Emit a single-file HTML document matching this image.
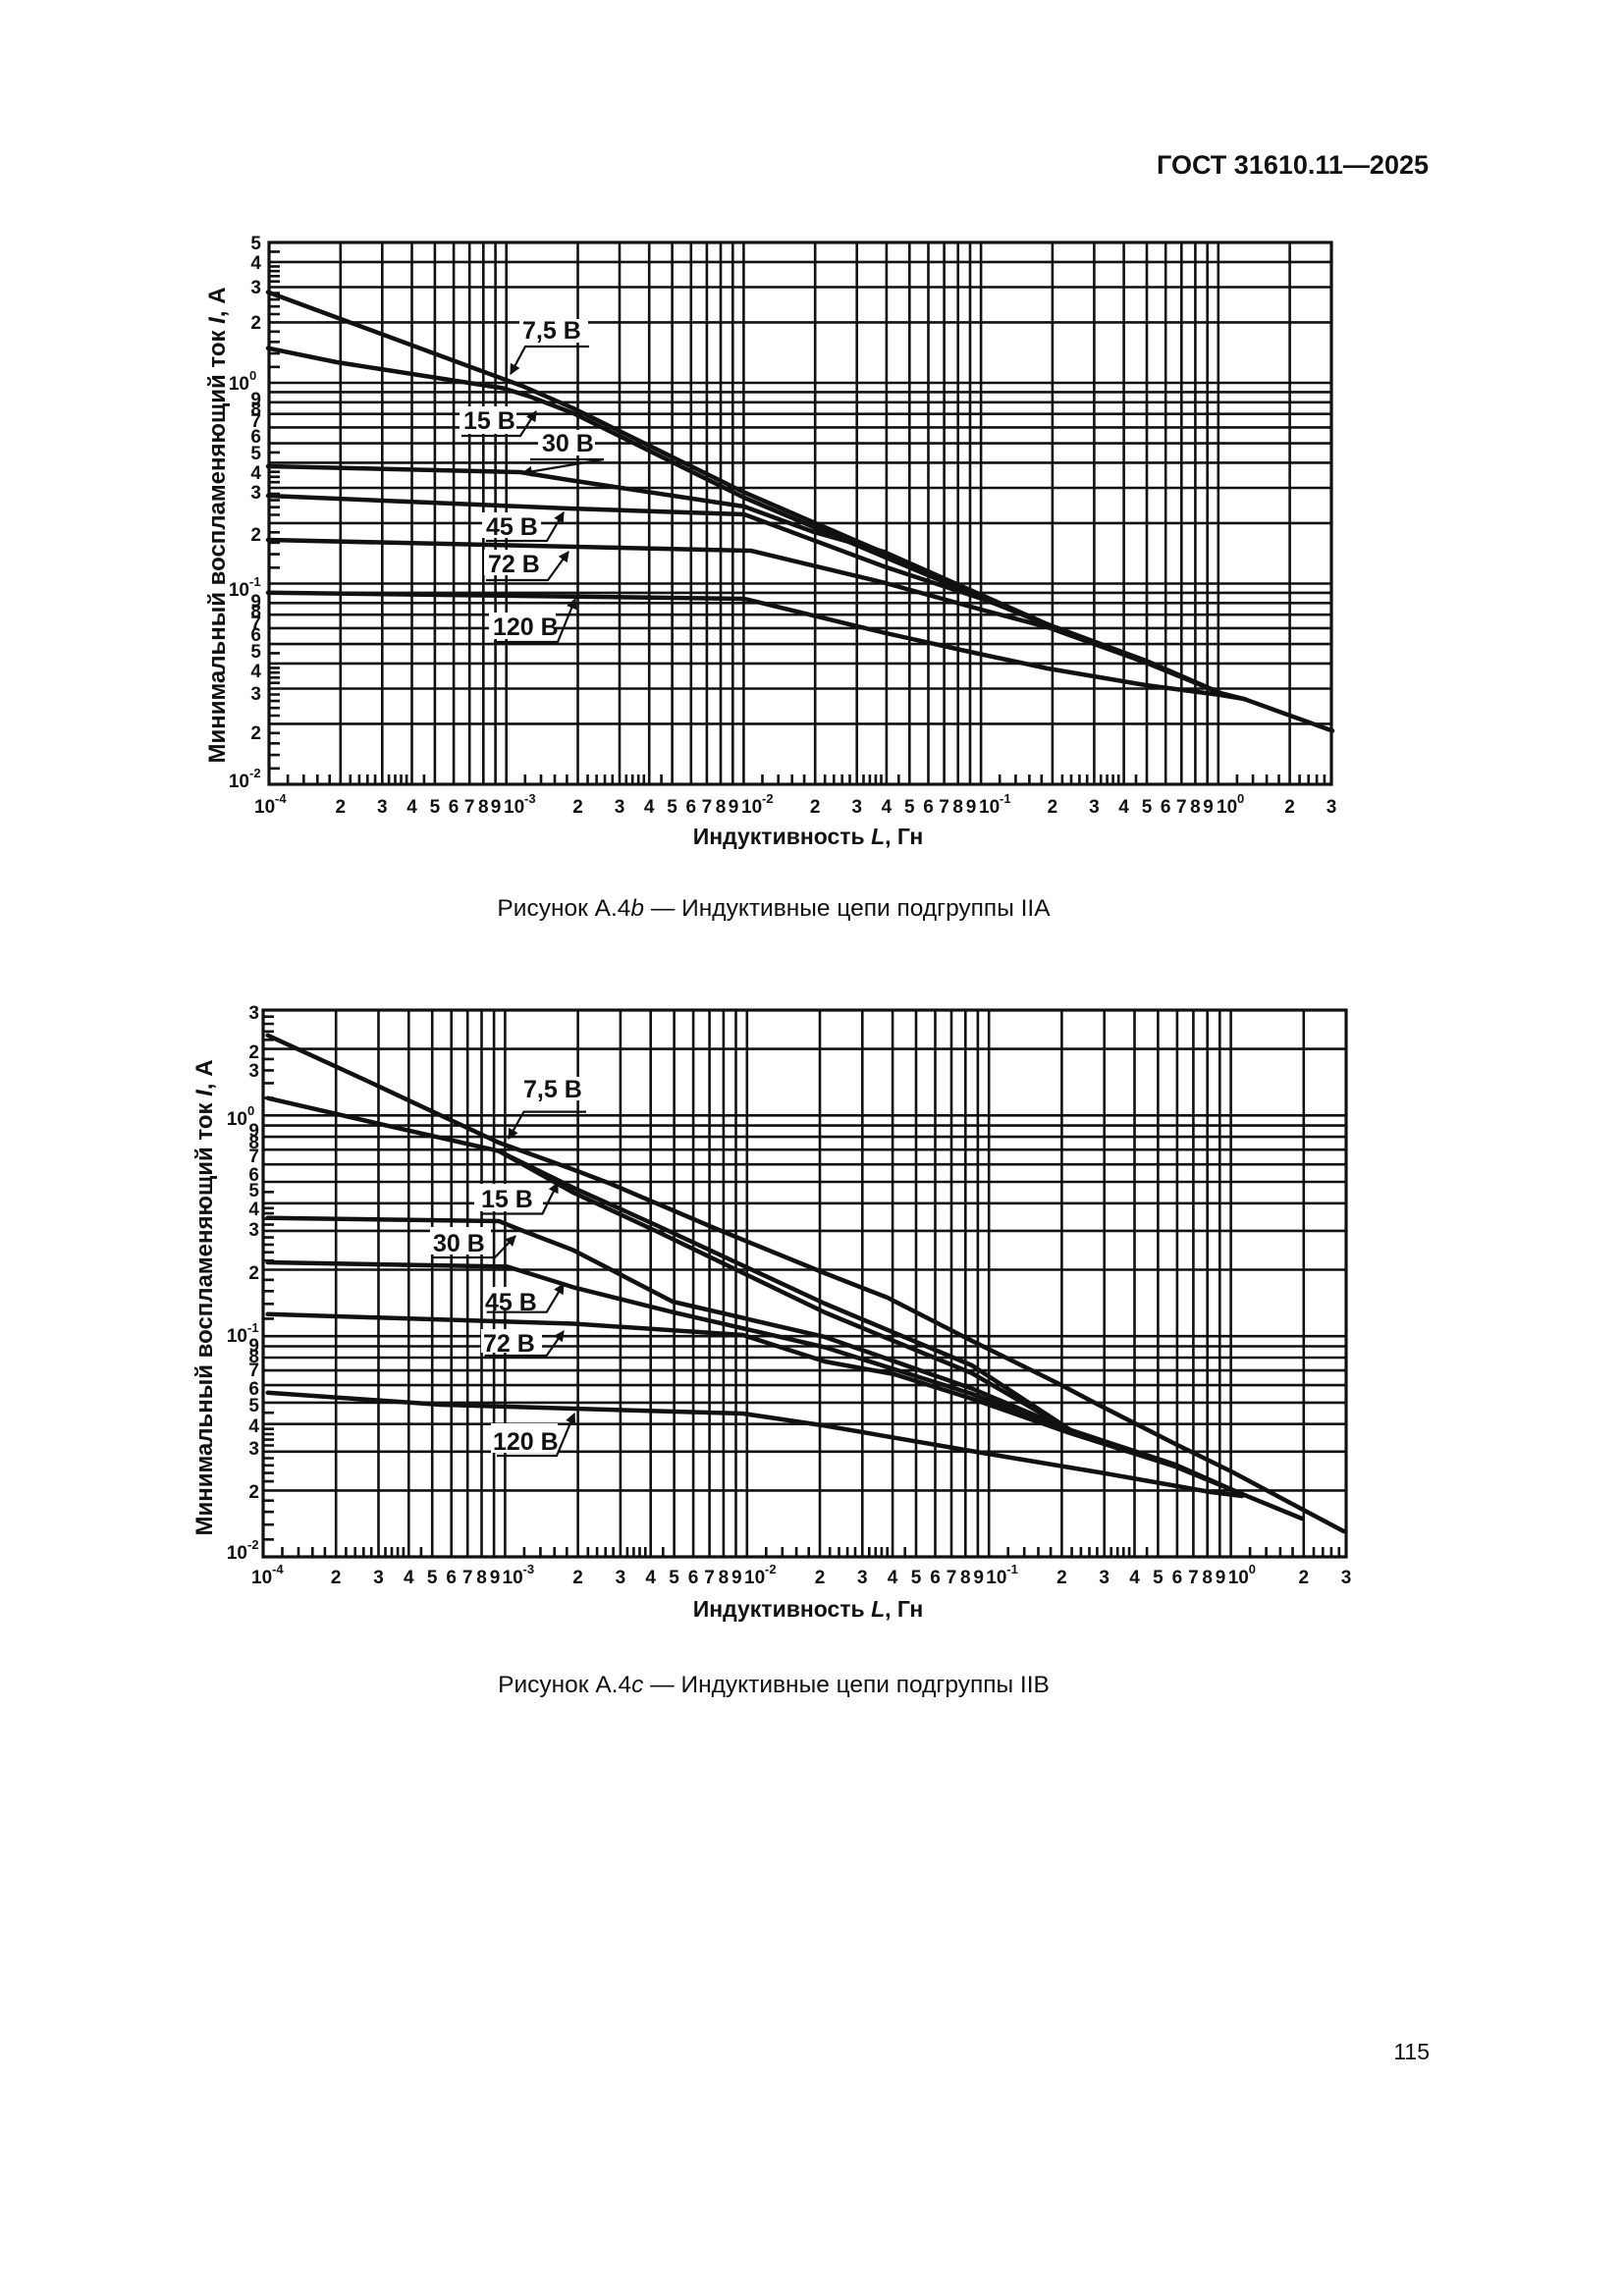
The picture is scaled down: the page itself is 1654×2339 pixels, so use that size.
<!DOCTYPE html>
<html><head><meta charset="utf-8"><style>
html,body{margin:0;padding:0;background:#fff}
svg{display:block}
text{font-family:"Liberation Sans",Arial,sans-serif;fill:#111}
.b{font-weight:bold}
.t{font-weight:bold;font-size:19px}
.lb{font-weight:bold;font-size:25px}
</style></head><body>
<svg width="1654" height="2339" viewBox="0 0 1654 2339" xmlns="http://www.w3.org/2000/svg">
<defs>
<marker id="ah" viewBox="0 0 10 10" refX="9" refY="5" markerWidth="5" markerHeight="5" orient="auto" markerUnits="strokeWidth"><path d="M0,0L10,5L0,10z" fill="#111"/></marker>
<clipPath id="c1"><rect x="274" y="247" width="1082" height="552"/></clipPath>
<clipPath id="c2"><rect x="268" y="1029" width="1103" height="557"/></clipPath>
<g id="v1"><path d="M0 247V799M72.8 247V799M115.3 247V799M145.5 247V799M168.9 247V799M188.1 247V799M204.2 247V799M218.3 247V799M230.6 247V799"/></g>
<g id="h1"><path d="M274 0H1356M274 -61.6H1356M274 -97.5H1356M274 -123.1H1356M274 -142.9H1356M274 -159.1H1356M274 -172.8H1356M274 -184.7H1356M274 -195.1H1356"/></g>
<g id="tx1"><path d="M19.1 799v-10M35.3 799v-10M49.3 799v-10M61.7 799v-10M82.8 799v-10M91.9 799v-10M100.3 799v-10M108.1 799v-10M122.1 799v-10M128.5 799v-10M134.5 799v-10M140.1 799v-10M157.9 799v-10"/></g>
<g id="ty1"><path d="M274 -16.2h11M274 -29.9h11M274 -41.7h11M274 -52.2h11M274 -70h11M274 -77.8h11M274 -84.9h11M274 -91.5h11M274 -103.3h11M274 -108.7h11M274 -113.8h11M274 -118.6h11M274 -133.6h11"/></g>
<g id="v2"><path d="M0 1029V1586M74.2 1029V1586M117.5 1029V1586M148.3 1029V1586M172.2 1029V1586M191.7 1029V1586M208.2 1029V1586M222.5 1029V1586M235.1 1029V1586"/></g>
<g id="h2"><path d="M268 0H1371M268 -67.7H1371M268 -107.3H1371M268 -135.4H1371M268 -157.2H1371M268 -175H1371M268 -190H1371M268 -203.1H1371M268 -214.6H1371"/></g>
<g id="tx2"><path d="M19.5 1586v-10M36 1586v-10M50.3 1586v-10M62.9 1586v-10M84.4 1586v-10M93.7 1586v-10M102.3 1586v-10M110.2 1586v-10M124.5 1586v-10M131 1586v-10M137.1 1586v-10M142.9 1586v-10M160.9 1586v-10"/></g>
<g id="ty2"><path d="M268 -17.8h11M268 -32.9h11M268 -45.9h11M268 -57.4h11M268 -77h11M268 -85.5h11M268 -93.3h11M268 -100.6h11M268 -113.6h11M268 -119.5h11M268 -125.1h11M268 -130.4h11M268 -146.9h11"/></g>
</defs>

<text x="1455" y="177" text-anchor="end" class="b" font-size="27">ГОСТ 31610.11—2025</text>

<!-- ================= CHART 1 ================= -->
<g stroke="#111" stroke-width="2.6" fill="none" clip-path="url(#c1)">
<use href="#v1" x="274"/><use href="#v1" x="515.7"/><use href="#v1" x="757.4"/><use href="#v1" x="999.1"/><use href="#v1" x="1240.8"/>
<use href="#h1" y="799"/><use href="#h1" y="594.5"/><use href="#h1" y="390"/>
<use href="#tx1" x="274"/><use href="#tx1" x="515.7"/><use href="#tx1" x="757.4"/><use href="#tx1" x="999.1"/><use href="#tx1" x="1240.8"/>
<use href="#ty1" y="799"/><use href="#ty1" y="594.5"/><use href="#ty1" y="390"/>
</g>
<rect x="274" y="247" width="1082" height="552" fill="none" stroke="#111" stroke-width="3.2"/>

<g stroke="#111" stroke-width="4.5" fill="none" stroke-linejoin="round" stroke-linecap="round">
<polyline points="273,297.6 532.6,393.5 584,416 758,501.6 900,563 1067,636 1167,673 1243,706 1267,712 1357,744.5"/>
<polyline points="273,354.7 343,369 512.5,395.5 539,403.7 584,421 758,507 900,567 1067,637"/>
<polyline points="273,475 530,481 579.5,489 758,516 829,542 900,562 1067,636"/>
<polyline points="273,505 579.5,518 758,524 900,577 1003,611 1067,636"/>
<polyline points="273,550 765,561 900,593.5 1003,622 1067,639 1167,675 1243,706"/>
<polyline points="273,603.7 758,610 900,644.5 983,663 1067,681 1167,698 1243,708 1267,712"/>
</g>

<g fill="#fff">
<rect x="529" y="325" width="70" height="24"/>
<rect x="468" y="414" width="58" height="28"/>
<rect x="548" y="438" width="58" height="26"/>
<rect x="491" y="522" width="60" height="26"/>
<rect x="493" y="560" width="58" height="26"/>
<rect x="498" y="624" width="68" height="27"/>
</g>
<g class="lb">
<text x="532" y="345">7,5 В</text>
<text x="472" y="437">15 В</text>
<text x="552" y="460">30 В</text>
<text x="495" y="545">45 В</text>
<text x="497" y="583">72 В</text>
<text x="502" y="647">120 В</text>
</g>
<g stroke="#111" stroke-width="2.2" fill="none">
<path d="M600 353H535L520 381" marker-end="url(#ah)"/>
<path d="M470 444H530L546 419" marker-end="url(#ah)"/>
<path d="M540 468H615" /><path d="M615 468L532 482" marker-end="url(#ah)"/>
<path d="M495 551H557L574 522" marker-end="url(#ah)"/>
<path d="M495 591H558L579 562" marker-end="url(#ah)"/>
<path d="M503 654H568L586 610" marker-end="url(#ah)"/>
</g>

<g class="t" text-anchor="end">
<text x="266" y="254">5</text><text x="266" y="274">4</text><text x="266" y="299">3</text><text x="266" y="335">2</text>
<text x="254" y="397">10</text><text x="266" y="413">9</text><text x="266" y="423">8</text><text x="266" y="435">7</text><text x="266" y="451">6</text><text x="266" y="468">5</text><text x="266" y="488">4</text><text x="266" y="508">3</text><text x="266" y="551">2</text>
<text x="254" y="607">10</text><text x="266" y="619">9</text><text x="266" y="629">8</text><text x="266" y="641">7</text><text x="266" y="653">6</text><text x="266" y="670">5</text><text x="266" y="690">4</text><text x="266" y="713">3</text><text x="266" y="753">2</text>
<text x="254" y="802">10</text>
</g>
<g class="b" font-size="13">
<text x="254" y="387">0</text><text x="254" y="597">-1</text><text x="254" y="792">-2</text>
</g>
<g class="t" text-anchor="middle">
<text x="346.8" y="828">2</text><text x="389.3" y="828">3</text><text x="419.5" y="828">4</text><text x="442.9" y="828">5</text><text x="462.1" y="828">6</text><text x="478.2" y="828">7</text><text x="492.3" y="828">8</text><text x="505" y="828">9</text>
<text x="588.5" y="828">2</text><text x="631" y="828">3</text><text x="661.2" y="828">4</text><text x="684.6" y="828">5</text><text x="703.8" y="828">6</text><text x="719.9" y="828">7</text><text x="734" y="828">8</text><text x="747" y="828">9</text>
<text x="830.2" y="828">2</text><text x="872.7" y="828">3</text><text x="902.9" y="828">4</text><text x="926.3" y="828">5</text><text x="945.5" y="828">6</text><text x="961.6" y="828">7</text><text x="975.7" y="828">8</text><text x="989" y="828">9</text>
<text x="1071.9" y="828">2</text><text x="1114.4" y="828">3</text><text x="1144.6" y="828">4</text><text x="1168" y="828">5</text><text x="1187.2" y="828">6</text><text x="1203.3" y="828">7</text><text x="1217.4" y="828">8</text><text x="1230.5" y="828">9</text>
<text x="1313.6" y="828">2</text><text x="1356.1" y="828">3</text>
</g>
<g class="t">
<text x="259" y="828">10</text><text x="513" y="828">10</text><text x="755" y="828">10</text><text x="997" y="828">10</text><text x="1239" y="828">10</text>
</g>
<g class="b" font-size="13">
<text x="280" y="818">-4</text><text x="534" y="818">-3</text><text x="776" y="818">-2</text><text x="1018" y="818">-1</text><text x="1260" y="818">0</text>
</g>
<text x="823" y="860" text-anchor="middle" class="b" font-size="23">Индуктивность <tspan font-style="italic">L</tspan>, Гн</text>
<text transform="translate(229,535) rotate(-90)" text-anchor="middle" class="b" font-size="24">Минимальный воспламеняющий ток <tspan font-style="italic">I</tspan>, А</text>

<text x="788" y="933" text-anchor="middle" font-size="24.5">Рисунок А.4<tspan font-style="italic">b</tspan> — Индуктивные цепи подгруппы IIA</text>

<!-- ================= CHART 2 ================= -->
<g stroke="#111" stroke-width="2.6" fill="none" clip-path="url(#c2)">
<use href="#v2" x="268"/><use href="#v2" x="514.4"/><use href="#v2" x="760.8"/><use href="#v2" x="1007.2"/><use href="#v2" x="1253.6"/>
<use href="#h2" y="1586.1"/><use href="#h2" y="1361.2"/><use href="#h2" y="1136.3"/>
<use href="#tx2" x="268"/><use href="#tx2" x="514.4"/><use href="#tx2" x="760.8"/><use href="#tx2" x="1007.2"/><use href="#tx2" x="1253.6"/>
<use href="#ty2" y="1586.1"/><use href="#ty2" y="1361.2"/><use href="#ty2" y="1136.3"/>
</g>
<rect x="268" y="1029" width="1103" height="557" fill="none" stroke="#111" stroke-width="3.2"/>

<g stroke="#111" stroke-width="4.5" fill="none" stroke-linejoin="round" stroke-linecap="round">
<polyline points="272.6,1054.7 373.6,1101 508,1164 584,1191.5 622,1206 731,1252.5 840,1297 904,1322 990,1366 1079,1410 1118.6,1431 1197,1471 1254,1499 1329,1539 1368.6,1560"/>
<polyline points="272.6,1118.7 378,1143 508,1172.6 584,1210 668,1248 840,1328 990,1391 1090,1456.6 1197,1492 1265,1522 1326,1547"/>
<polyline points="508,1172.6 584,1215 668,1254 840,1337 990,1399 1090,1457"/>
<polyline points="272.6,1240.7 508,1244 529,1252.5 584,1273.6 685,1326 840,1362 990,1414.6 1090,1457"/>
<polyline points="272.6,1286 516.7,1290.4 584,1311.4 685,1336.7 840,1372.5 990,1420 1090,1458"/>
<polyline points="272.6,1338.8 584,1348.5 756.6,1360 840,1387 911,1400 990,1425 1090,1460 1197,1494 1265,1522"/>
<polyline points="272.6,1418.8 449,1431 756.6,1440 840,1452.4 1000,1480 1125.7,1501 1233,1520 1265,1524"/>
</g>

<g fill="#fff">
<rect x="530" y="1097" width="70" height="24"/>
<rect x="483" y="1206" width="70" height="28"/>
<rect x="438" y="1250" width="62" height="28"/>
<rect x="492" y="1311" width="62" height="24"/>
<rect x="490" y="1354" width="62" height="24"/>
<rect x="500" y="1450" width="68" height="30"/>
</g>
<g class="lb">
<text x="533" y="1118">7,5 В</text>
<text x="490" y="1230">15 В</text>
<text x="441" y="1275">30 В</text>
<text x="494" y="1335">45 В</text>
<text x="492" y="1377">72 В</text>
<text x="502" y="1477">120 В</text>
</g>
<g stroke="#111" stroke-width="2.2" fill="none">
<path d="M597 1132.6H533.5L518 1160" marker-end="url(#ah)"/>
<path d="M491 1236.5H552.5L568 1205" marker-end="url(#ah)"/>
<path d="M441 1281H504L525 1259" marker-end="url(#ah)"/>
<path d="M495.6 1336.7H556.7L574 1308" marker-end="url(#ah)"/>
<path d="M493.5 1381H556.7L574 1356" marker-end="url(#ah)"/>
<path d="M506 1483H567L585 1440" marker-end="url(#ah)"/>
</g>

<g class="t" text-anchor="end">
<text x="264" y="1038">3</text><text x="264" y="1078">2</text><text x="264" y="1097">3</text>
<text x="252" y="1146">10</text><text x="264" y="1158">9</text><text x="264" y="1170">8</text><text x="264" y="1184">7</text><text x="264" y="1203">6</text><text x="264" y="1219">5</text><text x="264" y="1238">4</text><text x="264" y="1259">3</text><text x="264" y="1303">2</text>
<text x="252" y="1367">10</text><text x="264" y="1377">9</text><text x="264" y="1388">8</text><text x="264" y="1402">7</text><text x="264" y="1421">6</text><text x="264" y="1438">5</text><text x="264" y="1459">4</text><text x="264" y="1482">3</text><text x="264" y="1526">2</text>
<text x="252" y="1588">10</text>
</g>
<g class="b" font-size="13">
<text x="252" y="1136">0</text><text x="252" y="1357">-1</text><text x="252" y="1578">-2</text>
</g>
<g class="t" text-anchor="middle">
<text x="342.2" y="1613">2</text><text x="385.5" y="1613">3</text><text x="416.3" y="1613">4</text><text x="440.2" y="1613">5</text><text x="459.7" y="1613">6</text><text x="476.2" y="1613">7</text><text x="490.5" y="1613">8</text><text x="504" y="1613">9</text>
<text x="588.6" y="1613">2</text><text x="631.9" y="1613">3</text><text x="662.7" y="1613">4</text><text x="686.6" y="1613">5</text><text x="706.1" y="1613">6</text><text x="722.6" y="1613">7</text><text x="736.9" y="1613">8</text><text x="750.3" y="1613">9</text>
<text x="835" y="1613">2</text><text x="878.3" y="1613">3</text><text x="909.1" y="1613">4</text><text x="933" y="1613">5</text><text x="952.5" y="1613">6</text><text x="969" y="1613">7</text><text x="983.3" y="1613">8</text><text x="996.7" y="1613">9</text>
<text x="1081.4" y="1613">2</text><text x="1124.7" y="1613">3</text><text x="1155.5" y="1613">4</text><text x="1179.4" y="1613">5</text><text x="1198.9" y="1613">6</text><text x="1215.4" y="1613">7</text><text x="1229.7" y="1613">8</text><text x="1243" y="1613">9</text>
<text x="1327.8" y="1613">2</text><text x="1371" y="1613">3</text>
</g>
<g class="t">
<text x="256" y="1613">10</text><text x="511.5" y="1613">10</text><text x="758" y="1613">10</text><text x="1004.3" y="1613">10</text><text x="1250.7" y="1613">10</text>
</g>
<g class="b" font-size="13">
<text x="277" y="1603">-4</text><text x="532.5" y="1603">-3</text><text x="779" y="1603">-2</text><text x="1025.3" y="1603">-1</text><text x="1271.7" y="1603">0</text>
</g>
<text x="823" y="1647" text-anchor="middle" class="b" font-size="23">Индуктивность <tspan font-style="italic">L</tspan>, Гн</text>
<text transform="translate(216,1322) rotate(-90)" text-anchor="middle" class="b" font-size="24">Минимальный воспламеняющий ток <tspan font-style="italic">I</tspan>, А</text>

<text x="788" y="1724" text-anchor="middle" font-size="24.5">Рисунок А.4<tspan font-style="italic">c</tspan> — Индуктивные цепи подгруппы IIB</text>

<text x="1456" y="2098" text-anchor="end" font-size="23">115</text>
</svg>
</body></html>
